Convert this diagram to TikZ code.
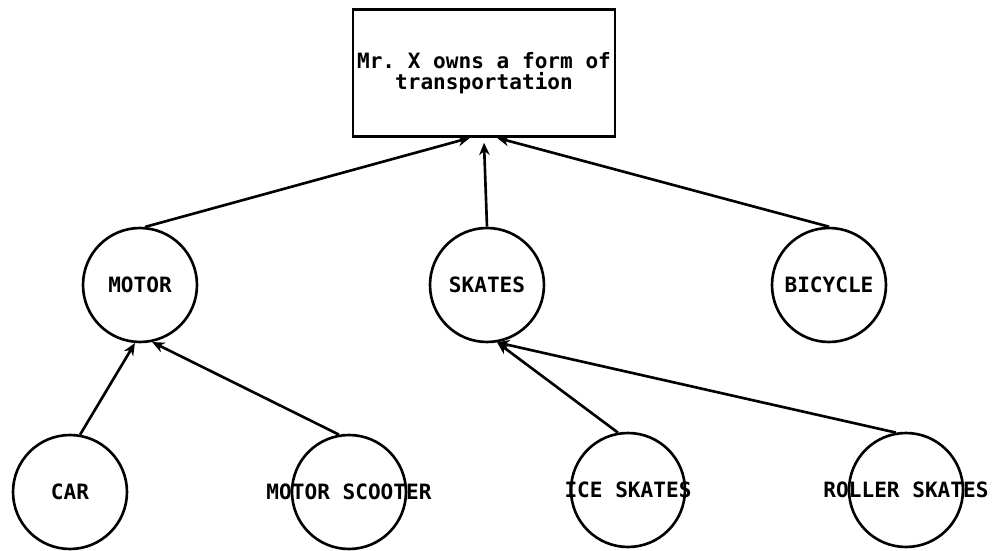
\documentclass[tikz,border=0pt]{standalone}
\usepackage{fontspec}
\setmonofont{DejaVu Sans Mono}
\usetikzlibrary{arrows.meta}
\newcommand{\clab}[1]{\makebox[0pt]{#1}}

\begin{document}
\begin{tikzpicture}[
  x=0.02cm, y=-0.02cm,
  >={Stealth[length=7pt,width=6pt]},
  line width=1.5pt,
  font=\ttfamily\bfseries\fontsize{12}{12}\selectfont,
  goal/.style={draw, rectangle, minimum width=5.24cm, minimum height=2.54cm,
    align=center, inner sep=0pt},
  item/.style={draw, circle, minimum size=2.28cm, inner sep=0pt}
]
\useasboundingbox (0,0) rectangle (995,551);

% top goal
\node[goal] (own) at (484,73) {Mr. X owns a form of\\transportation};

% middle row
\node[item] (motor)   at (140,285) {\clab{MOTOR}};
\node[item] (skates)  at (487,285) {\clab{SKATES}};
\node[item] (bicycle) at (829,285) {\clab{BICYCLE}};

% bottom row
\node[item] (car)     at (70,492)  {\clab{CAR}};
\node[item] (scooter) at (349,492) {\clab{MOTOR SCOOTER}};
\node[item] (ice)     at (628,490) {\clab{ICE SKATES}};
\node[item] (roller)  at (906,490) {\clab{ROLLER SKATES}};

% links up to the goal
\draw[->] (motor.85)     -- ([xshift=-0.28cm]own.south);
\draw[->] (skates.north) -- ([yshift=-0.1cm]own.south);
\draw[->] (bicycle.north) -- ([xshift=0.26cm]own.south);

% links up to the middle row
\draw[->] (car.80)      -- (motor.265);
\draw[->] (scooter.100) -- (motor.282);
\draw[->] (ice.100)     -- (skates.280);
\draw[->] (roller.100)  -- (skates.280);

\end{tikzpicture}
\end{document}
